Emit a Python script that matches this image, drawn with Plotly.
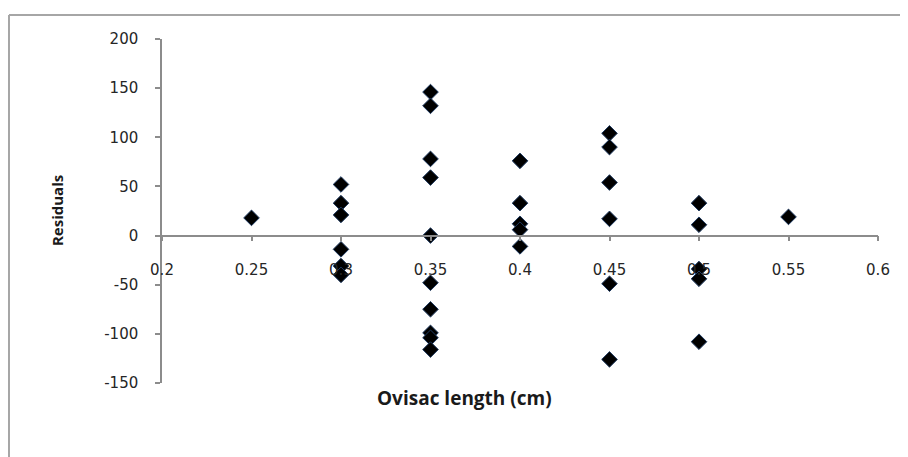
import plotly.graph_objects as go

# Data
ovisac_length = [0.25,
                 0.3, 0.3, 0.3, 0.3, 0.3, 0.3,
                 0.35, 0.35, 0.35, 0.35, 0.35, 0.35, 0.35, 0.35, 0.35, 0.35,
                 0.4, 0.4, 0.4, 0.4, 0.4,
                 0.45, 0.45, 0.45, 0.45, 0.45, 0.45,
                 0.5, 0.5, 0.5, 0.5, 0.5,
                 0.55]
residuals = [18,
             52, 33, 21, -14, -31, -40,
             146, 132, 78, 59, 0, -48, -75, -99, -104, -116,
             76, 33, 12, 6, -11,
             104, 90, 54, 17, -49, -126,
             33, 11, -34, -44, -108,
             19]

x_tick_vals = [0.2, 0.25, 0.3, 0.35, 0.4, 0.45, 0.5, 0.55, 0.6]
x_tick_text = ["0.2", "0.25", "0.3", "0.35", "0.4", "0.45", "0.5", "0.55", "0.6"]
y_tick_vals = [-150, -100, -50, 0, 50, 100, 150, 200]
y_tick_text = ["-150", "-100", "-50", "0", "50", "100", "150", "200"]

axis_gray = "#8c8c8c"
label_font = dict(family="DejaVu Sans, sans-serif", size=15, color="#262626")

fig = go.Figure()
fig.add_trace(go.Scatter(
    x=ovisac_length, y=residuals, mode="markers",
    marker=dict(symbol="diamond", size=12, color="black",
                line=dict(color="#1f3a60", width=1)),
    showlegend=False, cliponaxis=False,
))

y_min, y_max = -150, 200
fig.update_layout(
    width=900, height=449,
    margin=dict(l=154, r=30, t=31, b=74),
    paper_bgcolor="white", plot_bgcolor="white",
    xaxis=dict(range=[0.2, 0.6], tickvals=x_tick_vals, ticktext=x_tick_text,
               showgrid=False, zeroline=False, showline=True,
               linecolor=axis_gray, linewidth=1.5,
               ticks="outside", ticklen=5, tickcolor=axis_gray, tickwidth=1.5,
               anchor="free", position=(0 - y_min) / (y_max - y_min),
               ticklabelstandoff=16, tickfont=label_font),
    yaxis=dict(range=[y_min, y_max], tickvals=y_tick_vals, ticktext=y_tick_text,
               showgrid=False, zeroline=False, showline=True,
               linecolor=axis_gray, linewidth=1.5,
               ticks="outside", ticklen=5, tickcolor=axis_gray, tickwidth=1.5,
               ticklabelstandoff=14, tickfont=label_font),
    annotations=[
        dict(text="<b>Residuals</b>", xref="paper", yref="paper",
             x=-0.1466, y=0.5, textangle=-90, showarrow=False,
             xanchor="center", yanchor="middle",
             font=dict(family="Open Sans, sans-serif", size=15, color="#1a1a1a")),
        dict(text="<b>Ovisac length (cm)</b>", xref="paper", yref="paper",
             x=0.4218, y=-0.0436, showarrow=False, xanchor="center", yanchor="middle",
             font=dict(family="Open Sans, sans-serif", size=19, color="#1a1a1a")),
    ],
    shapes=[
        dict(type="line", xref="paper", yref="paper", x0=-0.2137, x1=-0.2137,
             y0=-0.3, y1=1.0698, line=dict(color="#a6a6a6", width=2)),
        dict(type="line", xref="paper", yref="paper", x0=-0.2137, x1=1.1,
             y0=1.0698, y1=1.0698, line=dict(color="#a6a6a6", width=2)),
    ],
)

fig.write_html("out.html")
